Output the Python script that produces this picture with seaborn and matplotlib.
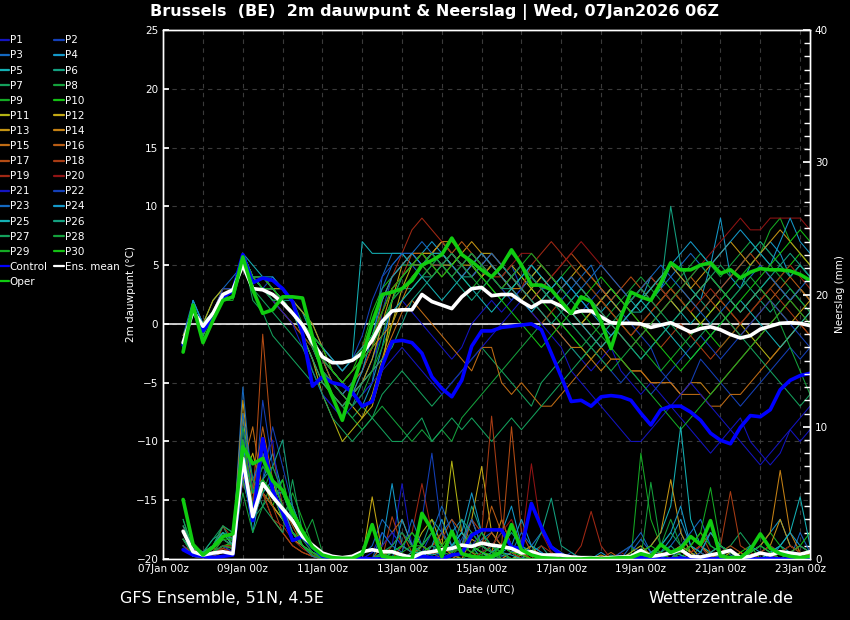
import numpy as np
import pandas as pd
import matplotlib
matplotlib.use("Agg")
import matplotlib.pyplot as plt
import matplotlib.ticker as mticker
import matplotlib.dates as mdates
from matplotlib.lines import Line2D
import seaborn as sns

# 6-hourly steps, 07Jan 12z .. 23Jan 06z
times = pd.date_range("2026-01-07 12:00", periods=64, freq="6h")

member_names = ["P%d" % k for k in range(1, 31)]
member_colors = ["#1414c0", "#1440b8", "#1468c0", "#1498c8", "#14b0b4", "#14a080", "#14a05c", "#14a03c",
                 "#14aa24", "#14c014", "#b4b414", "#c4a814", "#c49414", "#c48014", "#c06c14", "#b85c14",
                 "#b44c14", "#a83c14", "#a02814", "#901414",
                 "#1414c0", "#1440b8", "#1468c0", "#1498c8", "#14b0b4", "#14a080", "#14a05c", "#14a03c",
                 "#14aa24", "#14c014"]

# ---- 2m dew point (degC) ----
control_dew = [-1.8, 1.3, -0.6, 0.5, 2.3, 2.8, 5.9, 3.5, 3.9, 3.7, 3.0, 1.9, -0.8, -5.3, -4.5, -5.0,
               -5.2, -5.8, -7.0, -6.6, -3.6, -1.5, -1.4, -1.6, -2.5, -4.5, -5.5, -6.2, -4.8, -1.9, -0.6, -0.6,
               -0.3, -0.2, -0.1, 0.0, -0.5, -2.5, -4.5, -6.6, -6.5, -7.0, -6.2, -6.1, -6.2, -6.5, -7.6, -8.6,
               -7.3, -7.0, -7.0, -7.5, -8.2, -9.3, -9.9, -10.2, -8.8, -7.8, -7.9, -7.3, -5.6, -4.8, -4.4, -4.2]
mean_dew = [-1.6, 1.1, -0.2, 0.9, 2.5, 2.9, 5.0, 3.0, 2.9, 2.5, 1.8, 0.9, -0.1, -1.6, -2.8, -3.3,
            -3.3, -3.1, -2.5, -1.4, 0.2, 1.1, 1.2, 1.2, 2.5, 1.9, 1.6, 1.3, 2.3, 3.0, 3.1, 2.4,
            2.5, 2.5, 1.9, 1.4, 1.9, 1.9, 1.5, 0.9, 1.1, 1.1, 0.6, 0.1, 0.05, 0.05, 0.0, -0.3,
            -0.1, 0.1, -0.3, -0.7, -0.4, -0.25, -0.5, -0.9, -1.2, -1.0, -0.45, -0.2, 0.05, 0.1, 0.05, -0.15]
oper_dew = [-2.4, 1.6, -1.6, 0.3, 2.0, 2.3, 5.7, 2.9, 0.9, 1.2, 2.3, 2.3, 2.2, -1.1, -4.2, -6.2,
            -8.2, -5.3, -2.8, 0.1, 2.5, 2.7, 3.0, 3.7, 5.0, 5.4, 5.9, 7.3, 5.9, 5.3, 4.6, 4.0,
            4.9, 6.3, 5.0, 3.3, 3.3, 2.9, 1.9, 0.9, 2.3, 1.9, 0.2, -2.1, 0.6, 2.7, 2.3, 2.0,
            3.5, 5.2, 4.6, 4.6, 5.0, 5.2, 4.3, 4.6, 3.9, 4.4, 4.7, 4.6, 4.6, 4.5, 4.2, 3.7]

dew_members = [
    [-2, 1, 0, 1, 2, 3, 6, 4, 4, 3, 2, 1, -1, -4, -6, -7, -8, -6, -5, -3, -1, 1, 2, 1, 0, -1, -2, -3, -2, 0, 1, 2,
     1, 2, 3, 2, 1, 0, -1, -2, -3, -4, -3, -2, -4, -5, -6, -5, -6, -7, -8, -9, -10, -11, -10, -9, -8, -10, -11, -12, -11, -9, -10, -9],
    [-2, 1, 0, 1, 3, 3, 6, 3, 3, 4, 3, 2, 0, -2, -4, -5, -6, -7, -6, -5, 1, 4, 5, 5, 6, 5, 6, 5, 4, 5, 6, 5,
     4, 5, 3, 2, 3, 4, 3, 2, 1, 2, 3, 2, 1, 0, -1, -2, -4, -5, -6, -5, -3, -4, -5, -6, -7, -6, -5, -4, -3, -2, -3, -2],
    [-1, 2, 0, 2, 3, 4, 5, 4, 3, 3, 2, 1, 0, -1, -3, -5, -6, -5, -4, -2, 4, 6, 6, 5, 4, 5, 5, 6, 5, 4, 5, 4,
     3, 4, 5, 4, 3, 3, 2, 3, 4, 5, 3, 2, 1, 2, 3, 2, 3, 4, 5, 6, 5, 4, 3, 4, 5, 6, 7, 6, 5, 4, 5, 4],
    [-2, 2, 0, 1, 2, 3, 6, 4, 4, 4, 3, 2, 1, -1, -3, -4, -5, -6, -7, -5, -2, 2, 4, 5, 6, 7, 6, 5, 6, 5, 4, 5,
     4, 3, 4, 5, 4, 3, 4, 3, 2, 1, 2, 3, 2, 1, 2, 4, 3, 5, 4, 3, 2, 5, 9, 4, 3, 5, 6, 7, 6, 4, 5, 4],
    [-2, 1, 0, 1, 2, 3, 6, 5, 4, 3, 3, 2, 1, 0, -2, -3, -4, -3, 7, 6, 6, 6, 6, 5, 5, 6, 7, 6, 5, 6, 5, 4,
     5, 4, 3, 4, 5, 4, 3, 2, 3, 2, 1, 2, 3, 2, 1, 2, 3, 2, 1, 0, 1, 2, 3, 2, 1, 2, 3, 4, 3, 2, 3, 2],
    [-2, 1, -1, 1, 2, 3, 5, 3, 3, 3, 2, 2, 1, -1, -3, -5, -6, -7, -5, -3, 0, 2, 3, 3, 4, 4, 5, 5, 4, 4, 5, 4,
     3, 3, 2, 3, 4, 3, 2, 1, 0, 1, 2, 3, 2, 1, 1, 2, 3, 10, 5, 3, 2, 1, 2, 3, 4, 3, 2, 1, 2, 3, 2, 1],
    [-2, 1, 0, 1, 2, 3, 6, 2, 1, -1, -2, -3, -4, -5, -5, -6, -7, -8, -7, -8, -6, -5, -4, -5, -6, -7, -6, -5, -4, -3, -2, -3,
     -4, -5, -6, -7, -5, -4, -3, -2, -3, -2, -1, 0, -1, -2, -3, -2, -1, 0, 1, 2, 3, 4, 5, 4, 5, 6, 7, 6, 5, 4, 5, 4],
    [-2, 1, 0, 2, 3, 3, 6, 4, 3, 2, 2, 1, -1, -3, -5, -6, -7, -8, -9, -8, -7, -8, -9, -10, -9, -10, -9, -10, -8, -7, -6, -5,
     -4, -3, -2, -1, 0, 1, 0, -1, -2, -1, 0, 1, 2, 3, 4, 3, 2, 3, 4, 5, 6, 5, 4, 5, 6, 7, 6, 5, 4, 3, 2, 1],
    [-2, 1, 0, 1, 2, 2, 5, 3, 3, 2, 1, 0, -1, -2, -4, -6, -7, -6, -5, -4, -2, 0, 2, 3, 4, 5, 6, 5, 4, 3, 4, 5,
     4, 3, 2, 1, 2, 3, 4, 5, 4, 3, 2, 1, 0, -1, -2, -3, -4, -3, -2, -1, 0, 1, 2, 3, 4, 5, 6, 8, 9, 7, 6, 5],
    [-2, 1, -1, 1, 2, 3, 6, 4, 4, 3, 3, 2, 0, -2, -3, -4, -5, -4, -2, 1, 3, 4, 5, 5, 6, 5, 4, 5, 6, 5, 4, 3,
     2, 3, 4, 3, 2, 1, 0, -1, -2, -3, -2, -1, 0, 1, 2, 3, 4, 3, 2, 1, 0, -1, -2, -1, 0, 1, 2, 3, 4, 5, 6, 5],
    [-1, 1, 0, 1, 2, 3, 6, 4, 3, 3, 2, 1, -1, -3, -6, -8, -10, -9, -8, -6, -3, 0, 3, 5, 5, 6, 6, 5, 6, 5, 4, 5,
     4, 5, 4, 3, 2, 3, 2, 1, 0, 1, 2, 1, 0, -1, 0, 1, 2, 3, 2, 1, 0, 1, 2, 1, 0, -1, -2, -3, -2, -1, 0, 1],
    [-2, 1, 0, 2, 3, 3, 6, 4, 4, 3, 2, 1, 0, -2, -4, -5, -6, -7, -8, -7, -4, 2, 5, 6, 6, 6, 7, 6, 5, 5, 6, 6,
     5, 4, 3, 4, 5, 4, 3, 4, 5, 4, 3, 2, 1, 2, 3, 4, 3, 2, 1, 2, 3, 4, 3, 2, 1, 2, 3, 2, 1, 0, 1, 2],
    [-2, 1, 0, 1, 2, 3, 6, 4, 3, 3, 3, 2, 1, 0, -2, -4, -5, -6, -5, -3, 0, 3, 4, 5, 6, 6, 5, 5, 6, 7, 6, 5,
     4, 3, 2, 3, 4, 3, 2, 1, 0, 1, 2, 3, 2, 1, 2, 3, 4, 5, 4, 3, 4, 5, 6, 7, 6, 5, 6, 7, 8, 7, 6, 5],
    [-2, 1, -1, 1, 2, 3, 5, 3, 3, 3, 2, 1, 0, -1, -3, -4, -5, -4, -3, -2, -1, 0, 2, 4, 5, 6, 7, 7, 6, 5, 4, 5,
     4, 3, 3, 2, 1, 0, -1, -2, -2, -3, -4, -3, -3, -4, -4, -5, -5, -5, -6, -5, -5, -6, -5, -4, -3, -2, -1, 0, 1, 2, 3, 2],
    [-2, 1, 0, 1, 3, 3, 6, 4, 3, 2, 1, 0, -1, -3, -5, -6, -7, -6, -5, -4, -3, -1, 1, 2, 1, 0, -1, -2, -3, -4, -2, -2,
     -5, -6, -5, -6, -7, -7, -6, -5, -4, -3, -2, -3, -3, -4, -4, -5, -5, -5, -6, -6, -6, -7, -7, -6, -6, -5, -4, -3, -2, -1, 0, -1],
    [-2, 1, 0, 1, 2, 3, 6, 4, 4, 3, 2, 1, 0, -1, -3, -5, -6, -5, -4, -2, 2, 4, 5, 6, 6, 5, 5, 6, 7, 6, 5, 4,
     3, 4, 5, 4, 3, 2, 3, 4, 3, 2, 1, 0, -1, -2, -1, 0, 1, 2, 3, 4, 3, 2, 1, 0, -1, 0, 1, 2, 3, 4, 3, 2],
    [-2, 1, 0, 1, 2, 3, 6, 4, 3, 3, 2, 1, 0, -2, -3, -4, -5, -4, -3, -1, 1, 3, 4, 5, 5, 4, 5, 6, 5, 4, 5, 6,
     5, 4, 3, 2, 3, 4, 5, 6, 5, 4, 3, 2, 3, 4, 3, 2, 1, 2, 3, 2, 1, 2, 3, 4, 5, 6, 5, 4, 3, 2, 1, 0],
    [-2, 1, 0, 1, 2, 3, 6, 3, 3, 2, 1, 0, -1, -2, -4, -6, -7, -6, -4, -2, 1, 3, 4, 6, 5, 6, 5, 4, 5, 6, 5, 4,
     4, 3, 2, 1, 0, 1, 2, 1, 0, -1, -2, -1, 0, 1, 0, -1, -2, -1, 0, -1, -2, -3, -2, -1, 0, 1, 2, 3, 2, 1, 0, -1],
    [-2, 1, 0, 1, 2, 3, 6, 4, 3, 3, 2, 1, 0, -1, -2, -3, -4, -3, -2, 0, 2, 4, 6, 8, 9, 8, 7, 6, 5, 6, 5, 4,
     5, 4, 3, 5, 6, 7, 6, 5, 4, 3, 2, 1, 0, -1, 0, 1, 2, 3, 2, 1, 2, 3, 2, 1, 0, 1, 2, 3, 4, 5, 4, 3],
    [-2, 1, 0, 1, 2, 3, 6, 4, 4, 3, 2, 1, 0, -1, -3, -4, -5, -4, -3, -1, 1, 3, 4, 5, 6, 5, 4, 5, 4, 5, 6, 5,
     4, 5, 6, 6, 5, 4, 5, 6, 7, 6, 5, 4, 3, 2, 3, 4, 3, 2, 3, 4, 5, 6, 7, 8, 9, 8, 8, 9, 9, 9, 9, 8],
    [-2, 1, 0, 1, 2, 3, 6, 4, 3, 2, 1, 0, -2, -4, -6, -7, -8, -7, -6, -5, -4, -3, -2, -3, -4, -5, -6, -5, -4, -3, -2, -1,
     0, 1, 2, 1, 0, -1, -2, -4, -5, -6, -7, -8, -9, -10, -10, -9, -8, -7, -6, -5, -6, -7, -8, -9, -10, -11, -12, -11, -10, -9, -8, -7],
    [-2, 1, 0, 1, 3, 3, 6, 4, 4, 3, 2, 1, 0, -1, -2, -3, -4, -3, -1, 2, 4, 5, 6, 6, 5, 6, 5, 4, 5, 6, 5, 4,
     3, 2, 3, 4, 3, 2, 1, 0, -1, -2, -3, -4, -5, -4, -5, -6, -5, -4, -3, -2, -1, -2, -3, -2, -1, 0, 1, 2, 1, 0, -1, -2],
    [-2, 1, 0, 1, 2, 3, 6, 4, 3, 3, 2, 1, 0, -2, -4, -5, -6, -5, -3, 0, 3, 5, 6, 6, 7, 6, 5, 6, 5, 4, 5, 6,
     5, 4, 5, 4, 3, 2, 3, 4, 3, 4, 5, 4, 3, 2, 3, 4, 5, 4, 3, 2, 1, 0, 1, 2, 3, 4, 5, 4, 3, 2, 3, 4],
    [-2, 2, 0, 1, 2, 3, 6, 4, 3, 3, 2, 1, 0, -1, -3, -4, -5, -6, -4, -1, 2, 4, 5, 6, 5, 6, 6, 5, 4, 5, 6, 5,
     4, 3, 2, 1, 2, 3, 4, 3, 2, 1, 0, -1, 0, 1, 2, 3, 4, 5, 6, 7, 6, 5, 6, 7, 8, 7, 6, 5, 7, 9, 7, 6],
    [-2, 1, 0, 1, 2, 3, 6, 4, 3, 2, 2, 1, 0, -1, -2, -3, -4, -3, -2, -1, 0, 1, 2, 3, 4, 3, 2, 3, 4, 3, 2, 1,
     2, 3, 4, 5, 4, 3, 2, 1, 0, -1, -2, -1, 0, 1, 2, 1, 0, -1, -2, -3, -2, -1, 0, 1, 2, 1, 0, -1, -2, -1, 0, 1],
    [-2, 1, -1, 1, 2, 3, 6, 4, 3, 3, 2, 1, -1, -3, -5, -6, -7, -6, -5, -4, -3, -2, 0, 2, 3, 4, 5, 4, 3, 2, 3, 4,
     5, 4, 3, 2, 1, 0, 1, 2, 3, 2, 1, 0, -1, -2, -3, -2, -1, 0, 1, 2, 3, 4, 3, 2, 1, 2, 3, 4, 5, 6, 5, 4],
    [-2, 1, 0, 1, 2, 3, 5, 3, 2, 1, 0, -1, -2, -4, -6, -8, -9, -10, -9, -8, -9, -10, -10, -9, -8, -10, -9, -8, -9, -8, -9, -10,
     -9, -8, -9, -8, -7, -6, -5, -4, -3, -2, -1, 0, 1, 2, 3, 2, 1, 0, -1, -2, -1, 0, 1, 0, -1, -2, -3, -4, -5, -6, -7, -6],
    [-2, 1, 0, 1, 2, 3, 6, 4, 3, 2, 2, 1, 0, -2, -4, -5, -6, -7, -6, -4, -1, 2, 4, 5, 5, 4, 5, 6, 5, 4, 3, 4,
     5, 6, 5, 4, 3, 2, 1, 0, -1, -2, -3, -4, -3, -2, -1, 0, 1, 2, 3, 4, 5, 4, 3, 2, 3, 4, 3, 2, 0, -2, -4, -6],
    [-2, 1, 0, 1, 2, 3, 6, 4, 3, 3, 2, 1, 0, -1, -3, -4, -5, -4, -3, -2, 0, 2, 3, 4, 5, 6, 5, 4, 5, 6, 5, 4,
     3, 4, 5, 6, 5, 4, 3, 2, 1, 0, -1, -2, -3, -4, -5, -6, -7, -8, -9, -8, -7, -6, -5, -4, -3, -2, -1, 0, 1, 2, 1, 0],
    [-2, 1, 0, 1, 2, 3, 6, 4, 4, 3, 2, 1, 0, -1, -2, -4, -5, -4, -3, -1, 1, 3, 4, 5, 6, 5, 4, 5, 6, 5, 4, 3,
     2, 1, 0, -1, -2, -1, 0, 1, 2, 3, 4, 3, 2, 1, 0, -1, -2, -3, -4, -3, -2, -1, 0, 1, 2, 3, 4, 5, 6, 7, 8, 7],
]

# ---- precipitation (mm) ----
control_rain = [0.7, 0.3, 0.2, 0.1, 0.2, 0.3, 7.4, 2.9, 9.1, 5.2, 3.5, 1.4, 1.7, 0.9, 0.2, 0.1,
                0.05, 0.0, 0.05, 0.0, 0.0, 0.1, 0.0, 0.0, 0.2, 0.1, 0.0, 0.3, 0.4, 1.8, 2.2, 2.2,
                2.2, 0.9, 0.8, 4.2, 2.4, 0.9, 0.3, 0.1, 0.05, 0.0, 0.0, 0.0, 0.05, 0.0, 0.1, 0.0,
                0.0, 0.0, 0.05, 0.0, 0.0, 0.0, 0.05, 0.0, 0.0, 0.0, 0.0, 0.05, 0.0, 0.0, 0.0, 0.05]
mean_rain = [2.1, 0.55, 0.3, 0.45, 0.55, 0.4, 7.6, 3.2, 5.7, 4.7, 3.8, 2.9, 1.7, 1.05, 0.45, 0.2,
             0.1, 0.2, 0.55, 0.7, 0.55, 0.55, 0.3, 0.1, 0.45, 0.55, 0.7, 0.8, 1.05, 0.95, 1.2, 1.05,
             0.95, 0.8, 0.45, 0.55, 0.3, 0.3, 0.3, 0.15, 0.1, 0.1, 0.05, 0.1, 0.15, 0.2, 0.65, 0.2,
             0.3, 0.45, 0.7, 0.2, 0.15, 0.3, 0.45, 0.65, 0.1, 0.2, 0.45, 0.3, 0.55, 0.45, 0.35, 0.55]
oper_rain = [4.5, 1.1, 0.3, 0.9, 1.7, 1.9, 8.5, 7.2, 7.6, 5.9, 5.2, 3.5, 2.1, 0.9, 0.3, 0.1,
             0.05, 0.05, 0.4, 2.6, 0.2, 0.1, 0.05, 0.0, 3.45, 2.2, 0.17, 2.1, 0.4, 0.2, 0.1, 0.15,
             0.55, 2.6, 0.7, 0.3, 0.1, 0.05, 0.0, 0.0, 0.0, 0.05, 0.0, 0.05, 0.1, 0.1, 0.4, 0.2,
             1.1, 0.5, 0.8, 1.7, 1.1, 2.9, 0.2, 0.1, 0.1, 0.7, 1.9, 0.8, 0.4, 0.2, 0.1, 0.2]

rain_members = [
    [2, 0.5, 0.2, 0.5, 1, 0.5, 9, 4, 6, 5, 4, 3, 2, 1, 0.3, 0, 0, 0, 0, 0.5, 2, 1, 5.7, 1, 0.5, 0, 0.3, 1, 0.5, 0, 0.2, 0,
     0, 0, 0, 0, 0, 0, 0, 0, 0, 0, 0, 0, 0, 0, 0, 0, 0, 0, 0.2, 0, 0, 0, 0, 0, 0, 0, 0, 0, 0, 0, 0, 0],
    [1.5, 0.3, 0.1, 0.3, 0.5, 0.3, 8, 3, 12, 7, 5, 3, 1.5, 0.5, 0.1, 0, 0, 0, 0, 0, 0.5, 0, 0, 0, 0.5, 2, 1, 0.5, 1.5, 3, 1, 0.5,
     0.2, 0.5, 1, 0.3, 0, 0, 0, 0.5, 0, 0, 0, 0, 0.3, 0, 0.5, 0.2, 0, 0, 0, 0, 1, 0, 0, 0, 0, 0, 0, 0, 0, 0.5, 0, 0],
    [2, 0.5, 0.3, 0.8, 1.5, 1, 13, 5, 7, 6, 4, 2, 1, 0.5, 0, 0, 0, 0, 0.3, 1, 3, 2, 1, 0.5, 1, 0.5, 2, 3, 1, 0.5, 1.5, 2,
     1, 0.5, 0, 1, 2, 1, 0.5, 0, 0, 0, 0, 0, 0, 0.5, 1.5, 0.5, 0, 1, 2, 0.5, 0, 0.5, 1, 0.3, 0, 0, 0.5, 1, 0.5, 0, 2, 0.5],
    [1, 0.2, 0.1, 0.5, 1, 0.8, 7, 2, 6, 8, 5, 4, 2, 1, 0.2, 0, 0, 0, 0, 0, 1, 5.7, 1, 0.5, 0, 1, 0.5, 2, 3, 1, 0.5, 1,
     2, 4, 1, 0.5, 0, 0, 0, 0, 0, 0, 0.5, 0, 0, 0, 0, 0, 0.5, 1.5, 3, 1, 0.5, 2, 1, 0.5, 0, 0.5, 1, 2, 3, 1, 0.5, 0],
    [2.5, 1, 0.5, 1, 2, 1.5, 6, 3, 5, 4, 3, 2, 1, 0.5, 0.1, 0, 0, 0, 0, 0, 0.3, 0, 0, 0, 0, 0, 0.5, 1, 2, 1, 0, 0.5,
     1, 0.5, 0, 0, 0, 0, 0, 0, 0, 0, 0, 0, 0, 0, 0.5, 1, 2, 4, 10, 3, 1, 0.5, 0, 0, 0, 0, 0, 0.5, 1, 0.5, 0, 0.3],
    [1.5, 0.5, 0.2, 1, 2.5, 1, 9, 6, 4, 5, 6, 3, 2, 1, 0.3, 0, 0, 0, 0, 0, 0, 0.5, 1, 2, 1, 3, 2, 0.5, 1, 4, 2, 0.5,
     0.3, 0, 0, 0.5, 1, 0, 0, 0, 0, 0, 0, 0.3, 0, 0, 0, 0.5, 0.5, 1, 0.3, 0, 0, 0, 0.5, 0, 0, 0.3, 0, 0, 0, 0, 0, 0],
    [3, 0.8, 0.5, 1.5, 2.5, 2, 10, 3, 5, 4, 3, 1.5, 1, 0.5, 0.2, 0, 0, 0, 0, 0, 0, 0, 0, 0, 0, 0, 0, 0, 0, 0, 0.5, 0.3,
     0, 0, 0, 0, 0, 0, 0, 0, 0, 0, 0, 0, 0.5, 1, 0, 0, 1, 2, 1, 0.5, 0, 0, 0.5, 1, 2, 1, 0, 0, 0, 0, 0, 0],
    [2, 0.5, 0.1, 0.5, 1, 1, 5, 2, 4, 6, 4, 2, 1.5, 3, 0.5, 0, 0, 0, 0, 0, 0, 0, 0, 0, 0, 0, 0, 0, 0, 0, 0, 0,
     0, 0, 0, 0, 0, 0, 0, 0, 0, 0, 0, 0, 0, 0, 0, 0.5, 1, 3, 1, 0, 0.5, 2, 1, 0.5, 0, 0.5, 1, 0.5, 0, 0, 0, 0],
    [1.5, 0.3, 0.2, 0.3, 0.8, 1.5, 8, 5, 6, 5, 3, 5, 3, 1, 0.1, 0, 0, 0, 0, 0, 0, 0.5, 1, 0.5, 1, 2, 1, 0.5, 0, 0.5, 1, 0.5,
     0, 0, 0.5, 1, 0, 0, 0, 0, 0, 0, 0, 0, 0, 0, 8, 3, 1, 0.5, 0, 0, 0, 0, 0, 0, 0, 0.5, 1, 2, 1, 0, 0, 0],
    [2, 0.8, 0.3, 0.5, 1, 1.2, 7, 3, 5, 4, 6, 3, 1, 0.3, 0, 0, 0, 0, 0, 0, 0.5, 0.5, 0, 0, 1, 0.5, 0.5, 2, 1, 0.5, 0.3, 1,
     0, 0, 0, 0, 0, 0.5, 0, 0, 0, 0, 0, 0, 0, 0, 0, 0, 0, 0, 0.5, 1, 0.5, 0, 0, 0, 0.5, 1, 0, 0, 0, 0.5, 1, 2],
    [1, 0.3, 0.1, 0.3, 1, 0.5, 11, 4, 8, 6, 3, 2, 1, 0.5, 0.1, 0, 0, 0, 0, 0, 0, 0, 1, 0.5, 2, 3, 1, 7.4, 2, 1, 0.5, 0.2,
     0.5, 0, 0.3, 0, 0, 0, 0, 0, 0, 0, 0, 0, 0, 0.5, 1, 0.3, 0, 0, 0.5, 1, 0, 0, 0, 0.5, 0, 0, 0, 0, 0.5, 1, 0.5, 0],
    [1.5, 0.5, 0.2, 0.5, 1, 1, 6, 8, 5, 4, 3, 2, 1, 0.2, 0, 0, 0, 0, 0, 4.7, 0.5, 0, 0, 0.3, 1, 0.5, 0.5, 2, 1, 3, 7, 2,
     1, 0.5, 0.5, 1, 0, 0, 0, 0, 0, 0, 0.3, 0, 0, 0, 0, 0, 0, 0.5, 1, 0.5, 0, 0, 0.3, 0, 0.5, 0, 0, 0, 0, 0, 0, 0],
    [2, 0.5, 0.3, 0.5, 1.5, 1, 12, 5, 6, 4, 3, 1.5, 1, 0.3, 0, 0, 0, 0, 0, 0, 0, 0, 0, 0, 0, 0.5, 1, 0.3, 0, 1.5, 1, 0.5,
     3, 1, 0.5, 0, 0, 0, 0, 0, 0, 0, 0, 0, 0, 0, 0.5, 1, 2, 6, 2, 0.5, 1, 0.3, 0, 0, 0, 0, 0.5, 1, 3, 1, 0.5, 0],
    [1, 0.2, 0.1, 0.2, 0.5, 0.5, 8, 4, 9, 5, 3, 2, 1, 0.5, 0.1, 0, 0, 0, 0, 0, 0, 0, 0, 0, 0, 0, 0, 0, 0.5, 1, 0.5, 0,
     0, 0.5, 0, 0, 0, 0, 0, 0, 0, 0, 0, 0, 0, 0, 0, 0, 0, 0, 0, 0, 0.5, 0, 0, 0, 0, 0.5, 1, 2, 6.7, 2, 0.5, 0.3],
    [2, 0.5, 0.5, 1, 2, 1, 7, 10, 5, 3, 2, 1, 0.5, 0.2, 0, 0, 0, 0, 0, 0, 0, 0, 0, 0.5, 1, 0.5, 0, 0.5, 1, 0.5, 0, 0,
     0, 0, 0, 0, 0, 0, 0, 0, 0, 0, 0, 0, 0, 0, 0, 0, 0, 0, 0, 0, 0, 0, 0, 0, 0, 0, 0, 0, 0, 0.5, 1, 0.5],
    [1.5, 0.3, 0.1, 0.4, 0.8, 0.5, 9, 5, 10, 6, 4, 2.5, 1, 0.5, 0, 0, 0, 0, 0, 0, 1, 2, 3, 1, 0.5, 1, 2, 1, 0.5, 3, 1, 4,
     2, 1, 0.5, 0.3, 0, 0, 0, 0, 0, 0, 0, 0.5, 0, 0, 0, 0, 0.5, 0, 0, 0.5, 1, 2, 1, 0.5, 0, 0, 0, 0.5, 0, 0, 0.5, 0],
    [2.5, 1, 0.3, 0.5, 1, 0.8, 6, 4, 17, 8, 4, 2, 1, 0.3, 0, 0, 0, 0, 0, 0, 0, 1, 2, 0.5, 0.5, 1, 1.5, 3, 2, 1, 1, 2,
     1, 10, 2, 0.5, 0, 0, 0, 0, 0, 0, 0, 0, 0, 0, 0, 0.5, 1, 0.5, 0, 0, 0, 0, 0.5, 1, 0.5, 0, 0, 0, 0, 0, 0, 0],
    [2, 0.8, 0.2, 0.5, 2.5, 1.5, 8, 6, 5, 4, 2, 1, 0.5, 0.2, 0, 0, 0, 0, 0, 0, 0, 3.2, 1, 0.5, 0, 0.5, 1, 2, 1, 3, 2, 10.8,
     3, 1, 0.5, 0, 0, 0, 0, 0, 0, 0, 0, 0, 0, 0, 0, 0, 0, 0, 0.5, 1, 2, 0.5, 1, 5.1, 1, 0.5, 0, 0, 0, 0, 0, 0],
    [1, 0.5, 0.2, 0.3, 0.8, 0.5, 7, 3, 5, 3, 2.5, 1.5, 0.8, 0.3, 0.1, 0, 0, 0, 0, 0, 0, 0, 1, 2, 5.7, 2, 1, 0.5, 1, 2, 1, 0.5,
     1, 0.5, 0, 0, 1, 0.5, 0, 0, 1, 3.6, 1, 0, 0, 0, 0, 0, 0, 0, 0, 0.5, 1, 0, 0, 0, 0, 0, 0.5, 1, 0.5, 0, 0, 0],
    [2, 0.5, 0.1, 0.3, 1, 1, 9, 4, 6, 5, 4, 2, 1, 0.5, 0, 0, 0, 0, 0, 0, 0, 0, 0, 0.5, 1, 0.5, 0.3, 1, 0.5, 0, 0.5, 1,
     2, 3, 1, 7.2, 2, 0.5, 0, 0, 0, 0, 0, 0, 0.5, 0, 0, 0, 0, 0, 0, 0, 0, 0, 0, 0, 0, 0, 0, 0, 0.5, 1, 0.5, 0],
    [1.5, 0.3, 0.2, 0.5, 1, 0.5, 10, 5, 7, 9, 3, 2, 1, 0.5, 0.1, 0, 0, 0, 0, 0.5, 1, 2, 1, 0.5, 0, 0, 0.5, 0, 0, 0, 0, 0,
     0, 0, 0, 0, 0, 0, 0, 0, 0, 0, 0, 0, 0, 0, 0, 0, 0, 0, 0, 0, 0, 0, 0, 0, 0, 0, 0, 0, 0, 0, 0, 0],
    [1, 0.2, 0.1, 0.3, 0.5, 0.5, 8, 4, 6, 10, 7, 4, 2, 1, 0.2, 0, 0, 0, 0, 0, 0.5, 1, 2, 1, 3, 8, 2, 1, 0.5, 1, 2, 1,
     0.5, 0, 0, 0, 0, 0, 0, 0, 0, 0, 0, 0, 0.5, 1, 0.5, 0, 0, 0, 0, 0, 0.5, 0, 0, 0, 0, 0, 0, 0, 0, 0, 0, 0],
    [2, 0.5, 0.3, 0.8, 1.5, 1, 11, 6, 8, 5, 3, 2, 1, 0.2, 0, 0, 0, 0, 0, 0, 2, 1, 0.5, 3, 1, 2, 4, 2, 1, 3, 1, 0.5,
     1, 0.5, 2, 1, 0.5, 0, 0, 0, 0, 0, 0, 0, 0, 1, 2, 0.5, 0, 0, 1, 2, 3, 1, 0.5, 0, 0, 0.5, 1, 0.5, 0, 0, 0, 0],
    [1.5, 0.5, 0.2, 1, 2, 1.5, 9, 3, 5, 6, 4, 2, 1, 0.5, 0.1, 0, 0, 0, 0, 0, 0, 0, 3, 1, 0.5, 1, 3, 1, 2, 5, 2, 1,
     0.5, 1, 3, 1, 0.5, 0, 0, 0, 0, 0, 0, 0, 0, 0, 0, 0.5, 1, 2, 4, 1, 0.5, 2, 1, 0.5, 0, 1, 0.5, 0, 1, 2, 1, 0.5],
    [2, 0.8, 0.5, 1, 2, 1, 7, 4, 6, 5, 5, 3, 2, 1, 0.2, 0, 0, 0, 0, 0, 0, 0, 0, 0.5, 0.5, 0.3, 0.5, 1, 2, 1, 0.5, 0,
     0.5, 0.3, 0, 0, 0, 0, 0, 0, 0, 0, 0, 0, 0, 0, 0, 0, 0, 0.5, 0.3, 0, 0, 0.5, 1, 0.5, 0, 0, 0, 0.5, 1, 2, 4.7, 1],
    [2.5, 1, 0.5, 1.5, 2, 1.5, 8, 5, 6, 7, 9, 4, 2, 1, 0.3, 0, 0, 0, 0, 0, 0, 0.5, 1, 0.5, 1, 2, 1, 0.5, 3, 2, 1, 0.5,
     1, 2, 1, 0.5, 2, 4.6, 1, 0.5, 0, 0, 0, 0, 0, 0, 0, 0, 0, 0.5, 0, 0, 0, 0, 0.3, 0, 0, 0, 0, 0, 0, 0, 0, 0],
    [3, 0.5, 0.2, 1, 2.5, 2, 6, 3, 4, 3, 2, 6, 2, 1, 0.5, 0, 0, 0, 0, 0, 0, 0, 0, 0, 0, 0, 0, 0, 0, 0, 0, 0,
     0, 0, 0, 0, 0, 0, 0, 0, 0, 0, 0, 0, 0, 0, 0, 0, 0, 0, 0, 0, 0, 0, 0, 0, 0, 0, 0, 0, 0, 0, 0, 0],
    [2, 0.5, 0.1, 0.5, 1.5, 1, 10, 6, 5, 7, 5, 3, 1.5, 0.5, 0, 0, 0, 0, 0, 0, 0.5, 1, 2, 1, 0.5, 1, 0.5, 0.3, 1, 2, 1, 0.5,
     0.5, 0, 0, 0, 0, 0, 0, 0, 0, 0, 0, 0, 0, 0, 0, 5.8, 1, 0.5, 0, 0, 0, 0, 0, 0, 0, 0, 0, 0, 0, 0.5, 1, 0.5],
    [1.5, 0.3, 0.2, 0.5, 1, 0.8, 9, 5, 7, 6, 4, 3, 1, 0.3, 0, 0, 0, 0, 0, 0, 0, 0, 0.5, 1, 1, 2, 1, 0.5, 1, 0.5, 2, 1,
     0.5, 0, 0, 0, 0, 0, 0, 0, 0, 0, 0, 0, 0, 0, 0, 0, 0, 0, 0.5, 1, 2, 5.4, 1, 0.5, 0, 0, 0, 0, 0, 0, 0, 0],
    [2, 0.5, 0.3, 0.8, 1.5, 1.5, 8, 4, 6, 5, 3, 2, 1, 0.5, 0.1, 0, 0, 0, 0, 0, 0.3, 0.5, 1, 2, 1, 0.5, 1, 2, 0.5, 1, 0.5, 0.3,
     1, 0.5, 0.3, 0, 0, 0, 0, 0, 0, 0, 0, 0, 0, 0, 0.5, 1, 0.5, 0, 0, 1, 2, 1, 0.5, 0, 0, 0.5, 1, 0.5, 0, 0, 0, 0],
]

day_ticks = pd.date_range("2026-01-07", "2026-01-23", freq="2D")
all_days = pd.date_range("2026-01-07", "2026-01-23", freq="1D")

sns.set_theme(style="ticks", rc={
    "figure.facecolor": "black", "axes.facecolor": "black", "savefig.facecolor": "black",
    "axes.edgecolor": "white", "text.color": "white", "axes.labelcolor": "white",
    "xtick.color": "white", "ytick.color": "white",
})
plt.rcParams["font.family"] = ["DejaVu Sans"]

pal = dict(zip(member_names, member_colors))


def long_frame(series):
    parts = [pd.DataFrame({"time": times, "value": vals, "member": name})
             for name, vals in zip(member_names, series)]
    return pd.concat(parts, ignore_index=True)


dew_df = long_frame(dew_members)
rain_df = long_frame(rain_members)

fig = plt.figure(figsize=(8.5, 6.2), dpi=100)
ax = fig.add_axes([0.192, 0.0984, 0.761, 0.8532])
ax2 = ax.twinx()

# dew point
sns.lineplot(data=dew_df, x="time", y="value", hue="member", palette=pal, linewidth=0.75,
             legend=False, estimator=None, ax=ax)
ax.axhline(0, color="white", lw=1.1, zorder=1)
sns.lineplot(x=times, y=control_dew, color="#0000ff", linewidth=2.6, ax=ax)
sns.lineplot(x=times, y=mean_dew, color="white", linewidth=2.6, ax=ax)
sns.lineplot(x=times, y=oper_dew, color="#10cc10", linewidth=2.6, ax=ax)

# precipitation
sns.lineplot(data=rain_df, x="time", y="value", hue="member", palette=pal, linewidth=0.75,
             legend=False, estimator=None, ax=ax2)
sns.lineplot(x=times, y=control_rain, color="#0000ff", linewidth=2.6, ax=ax2)
sns.lineplot(x=times, y=mean_rain, color="white", linewidth=2.6, ax=ax2)
sns.lineplot(x=times, y=oper_rain, color="#10cc10", linewidth=2.6, ax=ax2)

ax.set_xlim(pd.Timestamp("2026-01-07 00:00"), pd.Timestamp("2026-01-23 06:00"))
ax.set_ylim(-20, 25)
ax.set_yticks(range(-20, 26, 5))
ax2.set_ylim(0, 40)
ax2.set_yticks([0, 10, 20, 30, 40])
ax2.yaxis.set_minor_locator(mticker.MultipleLocator(1))
ax.set_xticks(day_ticks)
ax.set_xticks(all_days, minor=True)
ax.xaxis.set_major_formatter(mdates.DateFormatter("%d%b %Hz"))

ax.grid(True, which="major", axis="y", color="#3a3a3a", ls=(0, (4, 4)), lw=0.8)
ax.grid(True, which="both", axis="x", color="#3a3a3a", ls=(0, (4, 4)), lw=0.8)
ax.set_axisbelow(True)

for a in (ax, ax2):
    a.set_xlabel("")
    a.set_ylabel("")
    for s in a.spines.values():
        s.set_color("white")
        s.set_linewidth(1.0)
ax.tick_params(axis="both", which="both", direction="in", labelsize=7.5, length=0)
ax.tick_params(axis="y", which="major", length=4)
ax2.tick_params(axis="y", which="major", direction="in", length=5, labelsize=7.5)
ax2.tick_params(axis="y", which="minor", direction="in", length=4)

fig.text(0.154, 0.525, "2m dauwpunt (\u00b0C)", rotation=90, ha="center", va="center", fontsize=7.5)
fig.text(0.988, 0.525, "Neerslag (mm)", rotation=90, ha="center", va="center", fontsize=7.5)
fig.text(0.572, 0.05, "Date (UTC)", ha="center", va="center", fontsize=7.5)

fig.text(0.511, 0.981, "Brussels  (BE)  2m dauwpunt & Neerslag | Wed, 07Jan2026 06Z",
         ha="center", va="center", fontsize=11.5, fontweight="bold")
fig.text(0.141, 0.034, "GFS Ensemble, 51N, 4.5E", ha="left", va="center", fontsize=11.5)
fig.text(0.934, 0.034, "Wetterzentrale.de", ha="right", va="center", fontsize=11.5)

# legend, two columns, row-major like the original
odd = [Line2D([], [], color=member_colors[k], lw=1.6) for k in range(0, 30, 2)]
even = [Line2D([], [], color=member_colors[k], lw=1.6) for k in range(1, 30, 2)]
h_ctrl = Line2D([], [], color="#0000ff", lw=1.6)
h_mean = Line2D([], [], color="white", lw=1.6)
h_oper = Line2D([], [], color="#10cc10", lw=1.6)
handles = odd + [h_ctrl, h_oper] + even + [h_mean]
labels = member_names[0::2] + ["Control", "Oper"] + member_names[1::2] + ["Ens. mean"]
fig.legend(handles, labels, loc="upper left", bbox_to_anchor=(-0.002, 0.943), ncol=2,
           frameon=False, fontsize=7.5, handlelength=1.0, handletextpad=0.1,
           columnspacing=0.6, labelspacing=0.49, borderpad=0, borderaxespad=0)

fig.savefig("out.png", dpi=100, facecolor="black")
